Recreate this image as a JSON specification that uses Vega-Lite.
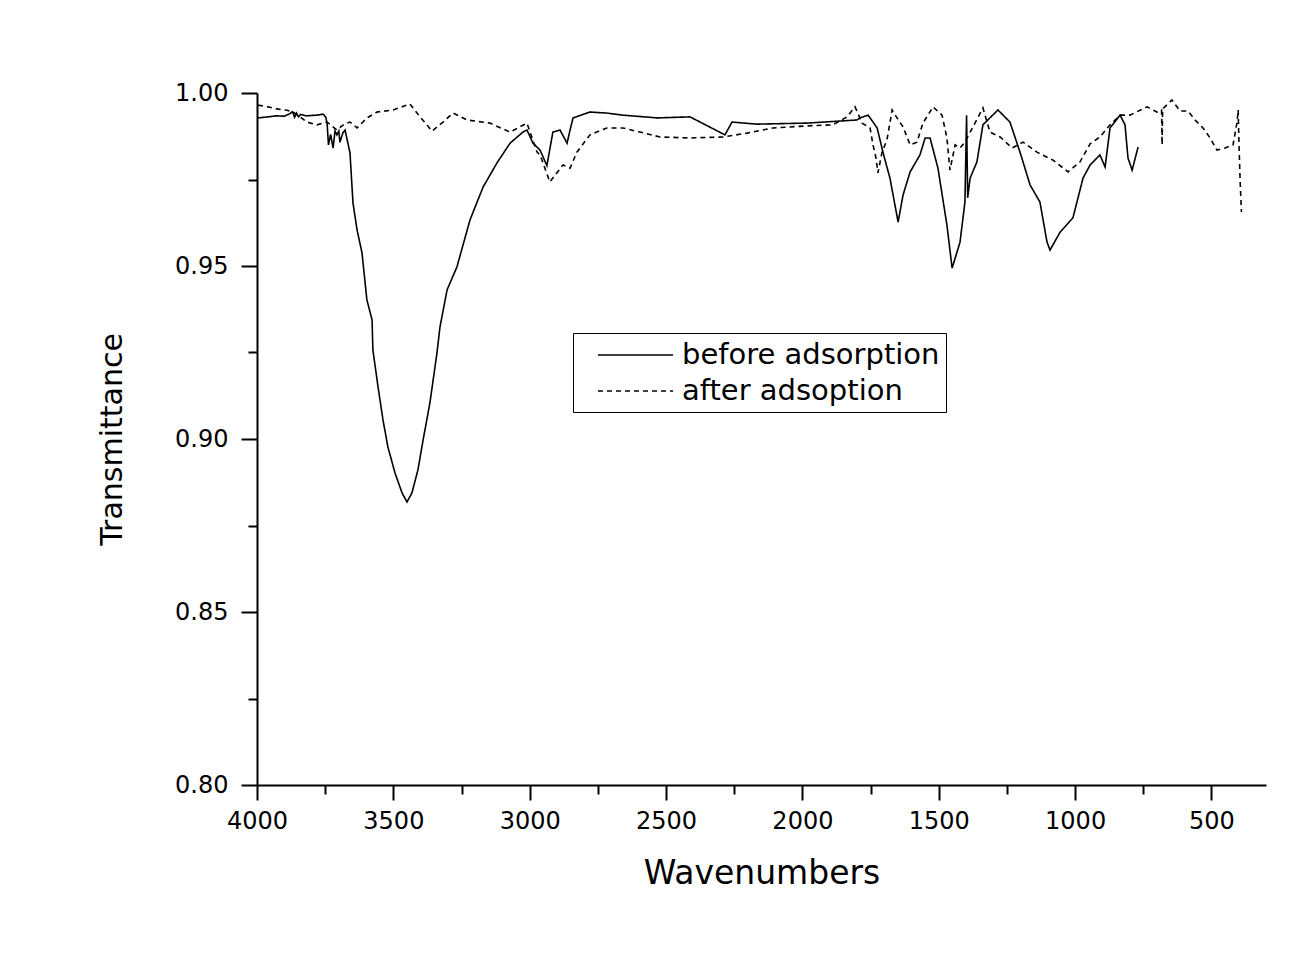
{
  "$schema": "https://vega.github.io/schema/vega-lite/v6.json",
  "width": 1009,
  "height": 692,
  "autosize": "none",
  "padding": {"left": 257, "top": 93, "right": 50, "bottom": 170},
  "background": "white",
  "config": {
    "view": {"stroke": null},
    "font": "DejaVu Sans",
    "axis": {
      "grid": false,
      "domainColor": "black",
      "domainWidth": 2,
      "tickColor": "black",
      "tickWidth": 2,
      "labelColor": "black",
      "labelFont": "DejaVu Sans",
      "labelFontSize": 24,
      "labelOverlap": false,
      "labelFlush": false,
      "titleColor": "black",
      "titleFont": "DejaVu Sans",
      "titleFontWeight": "normal"
    },
    "legend": {
      "orient": "none",
      "legendX": 316,
      "legendY": 240,
      "strokeColor": "black",
      "padding": 6,
      "rowPadding": 5,
      "symbolType": "M-2.5,0H2.5",
      "symbolSize": 900,
      "symbolStrokeWidth": 1.7,
      "symbolStrokeColor": "black",
      "symbolFillColor": "transparent",
      "symbolOffset": 40.5,
      "labelOffset": 30.5,
      "labelFont": "DejaVu Sans",
      "labelFontSize": 29,
      "labelColor": "black",
      "labelLimit": 400
    }
  },
  "data": {
    "values": [
      {"s":"before adsorption","w":3996,"t":0.9928},{"s":"before adsorption","w":3960,"t":0.9931},{"s":"before adsorption","w":3930,"t":0.9934},{"s":"before adsorption","w":3900,"t":0.9933},{"s":"before adsorption","w":3880,"t":0.9940},{"s":"before adsorption","w":3870,"t":0.9946},{"s":"before adsorption","w":3862,"t":0.9930},{"s":"before adsorption","w":3855,"t":0.9942},{"s":"before adsorption","w":3848,"t":0.9931},{"s":"before adsorption","w":3840,"t":0.9938},{"s":"before adsorption","w":3820,"t":0.9934},{"s":"before adsorption","w":3780,"t":0.9936},{"s":"before adsorption","w":3758,"t":0.9939},{"s":"before adsorption","w":3748,"t":0.9930},{"s":"before adsorption","w":3743,"t":0.9913},{"s":"before adsorption","w":3738,"t":0.9850},{"s":"before adsorption","w":3730,"t":0.9880},{"s":"before adsorption","w":3721,"t":0.9841},{"s":"before adsorption","w":3714,"t":0.9890},{"s":"before adsorption","w":3707,"t":0.9879},{"s":"before adsorption","w":3700,"t":0.9890},{"s":"before adsorption","w":3696,"t":0.9858},{"s":"before adsorption","w":3685,"t":0.9885},{"s":"before adsorption","w":3677,"t":0.9893},{"s":"before adsorption","w":3659,"t":0.9827},{"s":"before adsorption","w":3648,"t":0.9682},{"s":"before adsorption","w":3633,"t":0.9604},{"s":"before adsorption","w":3615,"t":0.9538},{"s":"before adsorption","w":3597,"t":0.9402},{"s":"before adsorption","w":3578,"t":0.9344},{"s":"before adsorption","w":3575,"t":0.9257},{"s":"before adsorption","w":3556,"t":0.9150},{"s":"before adsorption","w":3538,"t":0.9055},{"s":"before adsorption","w":3520,"t":0.8977},{"s":"before adsorption","w":3494,"t":0.8902},{"s":"before adsorption","w":3468,"t":0.8844},{"s":"before adsorption","w":3450,"t":0.8818},{"s":"before adsorption","w":3432,"t":0.8844},{"s":"before adsorption","w":3410,"t":0.8910},{"s":"before adsorption","w":3391,"t":0.8997},{"s":"before adsorption","w":3366,"t":0.9104},{"s":"before adsorption","w":3340,"t":0.9249},{"s":"before adsorption","w":3329,"t":0.9324},{"s":"before adsorption","w":3303,"t":0.9431},{"s":"before adsorption","w":3267,"t":0.9497},{"s":"before adsorption","w":3219,"t":0.9633},{"s":"before adsorption","w":3171,"t":0.9728},{"s":"before adsorption","w":3120,"t":0.9798},{"s":"before adsorption","w":3072,"t":0.9855},{"s":"before adsorption","w":3025,"t":0.9887},{"s":"before adsorption","w":3010,"t":0.9893},{"s":"before adsorption","w":2988,"t":0.9855},{"s":"before adsorption","w":2962,"t":0.9835},{"s":"before adsorption","w":2937,"t":0.9790},{"s":"before adsorption","w":2915,"t":0.9887},{"s":"before adsorption","w":2889,"t":0.9893},{"s":"before adsorption","w":2863,"t":0.9855},{"s":"before adsorption","w":2852,"t":0.9893},{"s":"before adsorption","w":2841,"t":0.9928},{"s":"before adsorption","w":2779,"t":0.9945},{"s":"before adsorption","w":2717,"t":0.9942},{"s":"before adsorption","w":2658,"t":0.9936},{"s":"before adsorption","w":2533,"t":0.9928},{"s":"before adsorption","w":2412,"t":0.9931},{"s":"before adsorption","w":2284,"t":0.9879},{"s":"before adsorption","w":2258,"t":0.9916},{"s":"before adsorption","w":2167,"t":0.9910},{"s":"before adsorption","w":1983,"t":0.9913},{"s":"before adsorption","w":1800,"t":0.9922},{"s":"before adsorption","w":1789,"t":0.9928},{"s":"before adsorption","w":1759,"t":0.9936},{"s":"before adsorption","w":1741,"t":0.9916},{"s":"before adsorption","w":1726,"t":0.9899},{"s":"before adsorption","w":1704,"t":0.9827},{"s":"before adsorption","w":1679,"t":0.9754},{"s":"before adsorption","w":1649,"t":0.9627},{"s":"before adsorption","w":1631,"t":0.9705},{"s":"before adsorption","w":1605,"t":0.9772},{"s":"before adsorption","w":1569,"t":0.9821},{"s":"before adsorption","w":1550,"t":0.9870},{"s":"before adsorption","w":1532,"t":0.9870},{"s":"before adsorption","w":1503,"t":0.9783},{"s":"before adsorption","w":1470,"t":0.9618},{"s":"before adsorption","w":1451,"t":0.9494},{"s":"before adsorption","w":1422,"t":0.9569},{"s":"before adsorption","w":1404,"t":0.9685},{"s":"before adsorption","w":1398,"t":0.9936},{"s":"before adsorption","w":1394,"t":0.9697},{"s":"before adsorption","w":1385,"t":0.9754},{"s":"before adsorption","w":1360,"t":0.9801},{"s":"before adsorption","w":1338,"t":0.9908},{"s":"before adsorption","w":1283,"t":0.9951},{"s":"before adsorption","w":1239,"t":0.9916},{"s":"before adsorption","w":1202,"t":0.9829},{"s":"before adsorption","w":1165,"t":0.9734},{"s":"before adsorption","w":1129,"t":0.9685},{"s":"before adsorption","w":1103,"t":0.9569},{"s":"before adsorption","w":1092,"t":0.9546},{"s":"before adsorption","w":1055,"t":0.9598},{"s":"before adsorption","w":1008,"t":0.9639},{"s":"before adsorption","w":971,"t":0.9754},{"s":"before adsorption","w":945,"t":0.9792},{"s":"before adsorption","w":909,"t":0.9821},{"s":"before adsorption","w":890,"t":0.9786},{"s":"before adsorption","w":872,"t":0.9899},{"s":"before adsorption","w":835,"t":0.9936},{"s":"before adsorption","w":817,"t":0.9908},{"s":"before adsorption","w":806,"t":0.9812},{"s":"before adsorption","w":791,"t":0.9777},{"s":"before adsorption","w":769,"t":0.9844},
      {"s":"after adsoption","w":3996,"t":0.9965},{"s":"after adsoption","w":3960,"t":0.9960},{"s":"after adsoption","w":3927,"t":0.9954},{"s":"after adsoption","w":3890,"t":0.9950},{"s":"after adsoption","w":3868,"t":0.9945},{"s":"after adsoption","w":3840,"t":0.9930},{"s":"after adsoption","w":3817,"t":0.9916},{"s":"after adsoption","w":3780,"t":0.9908},{"s":"after adsoption","w":3743,"t":0.9916},{"s":"after adsoption","w":3707,"t":0.9893},{"s":"after adsoption","w":3680,"t":0.9910},{"s":"after adsoption","w":3659,"t":0.9916},{"s":"after adsoption","w":3633,"t":0.9899},{"s":"after adsoption","w":3597,"t":0.9928},{"s":"after adsoption","w":3560,"t":0.9945},{"s":"after adsoption","w":3501,"t":0.9951},{"s":"after adsoption","w":3439,"t":0.9968},{"s":"after adsoption","w":3402,"t":0.9931},{"s":"after adsoption","w":3358,"t":0.9890},{"s":"after adsoption","w":3318,"t":0.9916},{"s":"after adsoption","w":3281,"t":0.9942},{"s":"after adsoption","w":3230,"t":0.9922},{"s":"after adsoption","w":3146,"t":0.9913},{"s":"after adsoption","w":3072,"t":0.9887},{"s":"after adsoption","w":3010,"t":0.9913},{"s":"after adsoption","w":2973,"t":0.9829},{"s":"after adsoption","w":2962,"t":0.9821},{"s":"after adsoption","w":2926,"t":0.9743},{"s":"after adsoption","w":2878,"t":0.9792},{"s":"after adsoption","w":2852,"t":0.9783},{"s":"after adsoption","w":2827,"t":0.9829},{"s":"after adsoption","w":2779,"t":0.9879},{"s":"after adsoption","w":2717,"t":0.9899},{"s":"after adsoption","w":2658,"t":0.9899},{"s":"after adsoption","w":2596,"t":0.9887},{"s":"after adsoption","w":2522,"t":0.9873},{"s":"after adsoption","w":2412,"t":0.9870},{"s":"after adsoption","w":2291,"t":0.9873},{"s":"after adsoption","w":2203,"t":0.9884},{"s":"after adsoption","w":2108,"t":0.9899},{"s":"after adsoption","w":1983,"t":0.9905},{"s":"after adsoption","w":1888,"t":0.9908},{"s":"after adsoption","w":1836,"t":0.9931},{"s":"after adsoption","w":1807,"t":0.9960},{"s":"after adsoption","w":1781,"t":0.9913},{"s":"after adsoption","w":1752,"t":0.9899},{"s":"after adsoption","w":1741,"t":0.9850},{"s":"after adsoption","w":1730,"t":0.9812},{"s":"after adsoption","w":1723,"t":0.9769},{"s":"after adsoption","w":1708,"t":0.9829},{"s":"after adsoption","w":1690,"t":0.9864},{"s":"after adsoption","w":1671,"t":0.9951},{"s":"after adsoption","w":1653,"t":0.9928},{"s":"after adsoption","w":1631,"t":0.9902},{"s":"after adsoption","w":1605,"t":0.9850},{"s":"after adsoption","w":1580,"t":0.9858},{"s":"after adsoption","w":1558,"t":0.9913},{"s":"after adsoption","w":1521,"t":0.9960},{"s":"after adsoption","w":1488,"t":0.9936},{"s":"after adsoption","w":1470,"t":0.9870},{"s":"after adsoption","w":1459,"t":0.9777},{"s":"after adsoption","w":1440,"t":0.9850},{"s":"after adsoption","w":1422,"t":0.9841},{"s":"after adsoption","w":1404,"t":0.9858},{"s":"after adsoption","w":1338,"t":0.9957},{"s":"after adsoption","w":1312,"t":0.9887},{"s":"after adsoption","w":1275,"t":0.9873},{"s":"after adsoption","w":1231,"t":0.9841},{"s":"after adsoption","w":1191,"t":0.9858},{"s":"after adsoption","w":1140,"t":0.9829},{"s":"after adsoption","w":1081,"t":0.9806},{"s":"after adsoption","w":1026,"t":0.9772},{"s":"after adsoption","w":982,"t":0.9801},{"s":"after adsoption","w":945,"t":0.9853},{"s":"after adsoption","w":909,"t":0.9873},{"s":"after adsoption","w":872,"t":0.9908},{"s":"after adsoption","w":835,"t":0.9936},{"s":"after adsoption","w":799,"t":0.9936},{"s":"after adsoption","w":736,"t":0.9960},{"s":"after adsoption","w":700,"t":0.9945},{"s":"after adsoption","w":683,"t":0.9951},{"s":"after adsoption","w":681,"t":0.9850},{"s":"after adsoption","w":679,"t":0.9954},{"s":"after adsoption","w":645,"t":0.9980},{"s":"after adsoption","w":615,"t":0.9948},{"s":"after adsoption","w":586,"t":0.9948},{"s":"after adsoption","w":560,"t":0.9922},{"s":"after adsoption","w":531,"t":0.9899},{"s":"after adsoption","w":505,"t":0.9870},{"s":"after adsoption","w":480,"t":0.9835},{"s":"after adsoption","w":450,"t":0.9841},{"s":"after adsoption","w":421,"t":0.9850},{"s":"after adsoption","w":406,"t":0.9916},{"s":"after adsoption","w":402,"t":0.9951},{"s":"after adsoption","w":399,"t":0.9850},{"s":"after adsoption","w":395,"t":0.9749},{"s":"after adsoption","w":390,"t":0.9656}
    ]
  },
  "mark": {"type": "line", "color": "black", "strokeWidth": 1.6, "interpolate": "linear"},
  "encoding": {
    "x": {
      "field": "w",
      "type": "quantitative",
      "scale": {"domain": [300, 4000], "reverse": true, "nice": false, "zero": false},
      "axis": {
        "title": "Wavenumbers",
        "titleFontSize": 33,
        "titlePadding": 24,
        "values": [4000, 3750, 3500, 3250, 3000, 2750, 2500, 2250, 2000, 1750, 1500, 1250, 1000, 750, 500],
        "format": "d",
        "labelExpr": "datum.value % 500 === 0 ? datum.label : ''",
        "labelPadding": 9,
        "tickSize": {"condition": {"test": "datum.value % 500 === 0", "value": 15}, "value": 9}
      }
    },
    "y": {
      "field": "t",
      "type": "quantitative",
      "scale": {"domain": [0.8, 1.0], "nice": false, "zero": false},
      "axis": {
        "title": "Transmittance",
        "titleFontSize": 30,
        "titlePadding": 47,
        "values": [0.8, 0.825, 0.85, 0.875, 0.9, 0.925, 0.95, 0.975, 1.0],
        "labelExpr": "abs(datum.value*20 - round(datum.value*20)) < 0.001 ? format(datum.value, '.2f') : ''",
        "labelPadding": 13,
        "tickSize": {"condition": {"test": "abs(datum.value*20 - round(datum.value*20)) < 0.001", "value": 16}, "value": 9}
      }
    },
    "strokeDash": {
      "field": "s",
      "type": "nominal",
      "scale": {"domain": ["before adsorption", "after adsoption"], "range": [[1, 0], [5, 4]]},
      "legend": {"title": null}
    }
  }
}
